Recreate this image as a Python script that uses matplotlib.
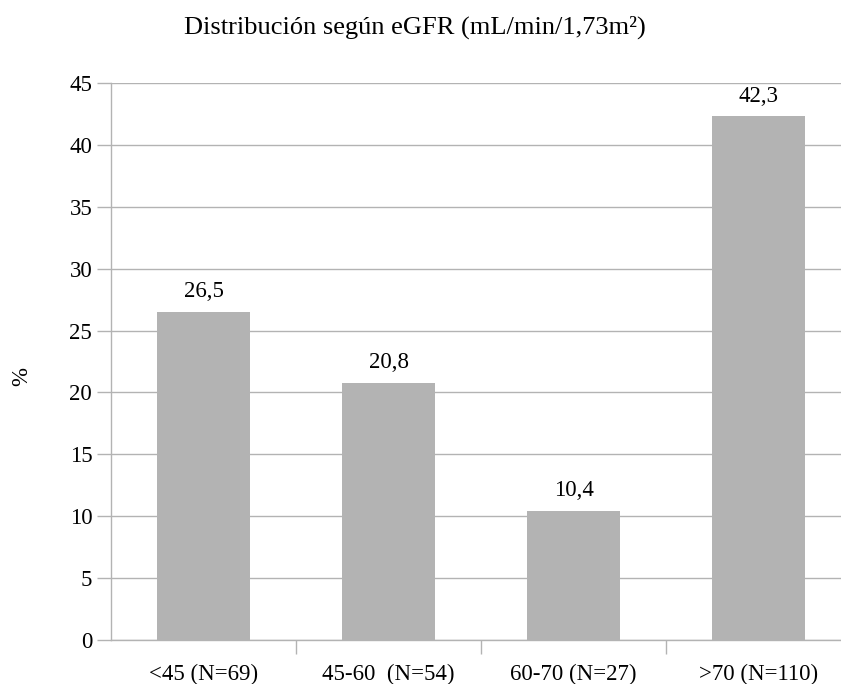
import matplotlib
matplotlib.use("Agg")
import matplotlib.pyplot as plt
from matplotlib.ticker import FixedLocator, NullFormatter

# eGFR groups and share of patients (%)
CATEGORIES = ["<45 (N=69)", "45-60  (N=54)", "60-70 (N=27)", ">70 (N=110)"]
PERCENTS = [26.5, 20.8, 10.4, 42.3]
LABELS = ["26,5", "20,8", "10,4", "42,3"]
Y_TICKS = [0, 5, 10, 15, 20, 25, 30, 35, 40, 45]

GRAY = "#b3b3b3"
FS = 16.5
plt.rcParams["font.family"] = ["Liberation Serif", "DejaVu Serif"]

W, H = 841, 684
fig = plt.figure(figsize=(W / 100, H / 100), dpi=100)
# plot area runs a little past the right edge of the figure
ax = fig.add_axes([111 / W, 44 / H, 740 / W, 557 / H])

x = list(range(len(CATEGORIES)))
ax.bar(x, PERCENTS, width=0.5, color=GRAY, zorder=2)
for xi, v, lab in zip(x, PERCENTS, LABELS):
    ax.text(xi, v + 0.8, lab, ha="center", va="bottom", fontsize=FS)

ax.set_xlim(-0.5, len(CATEGORIES) - 0.5)
ax.set_ylim(0, 45)
ax.set_yticks(Y_TICKS)
ax.grid(axis="y", color=GRAY, linewidth=1, zorder=0)

# category labels centred, tick marks between categories
ax.xaxis.set_major_locator(FixedLocator([0.5, 1.5, 2.5, 3.5]))
ax.xaxis.set_major_formatter(NullFormatter())
ax.xaxis.set_minor_locator(FixedLocator(x))
ax.set_xticklabels(CATEGORIES, minor=True, fontsize=FS)
ax.tick_params(axis="x", which="minor", length=0, pad=17)
ax.tick_params(axis="x", which="major", length=10, color=GRAY, width=1)
ax.tick_params(axis="y", length=10, color=GRAY, width=1, labelsize=FS, pad=3.5)

for side in ["top", "right"]:
    ax.spines[side].set_visible(False)
for side in ["left", "bottom"]:
    ax.spines[side].set_color(GRAY)
    ax.spines[side].set_linewidth(1)

fig.text(22 / W, 1 - 377 / H, "%", rotation=90, ha="center", va="center", fontsize=FS)
fig.text(415 / W, 1 - 27 / H, "Distribución según eGFR (mL/min/1,73m²)",
         ha="center", va="center", fontsize=19)

fig.savefig("out.png", dpi=100)
